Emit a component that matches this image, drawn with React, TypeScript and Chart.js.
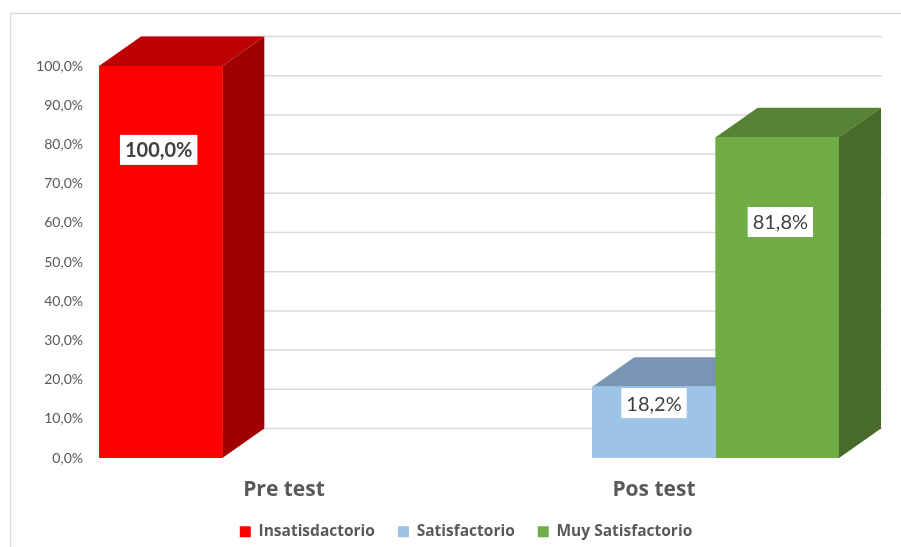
import { useEffect, useRef } from "react";
import { Chart, registerables } from "chart.js";

Chart.register(...registerables);

const categories = ["Pre test", "Pos test"];
const seriesNames = ["Insatisdactorio", "Satisfactorio", "Muy Satisfactorio"];
const insatisfactorio = [100, null];
const satisfactorio = [null, 18.2];
const muySatisfactorio = [null, 81.8];

const FONT = "Lato, 'Open Sans', sans-serif";
const WIDE = "'Open Sans', sans-serif";
const GREY = "#595959";
const DX = 42;
const DY = 29.5;
const faces = [
  { front: "#FF0000", top: "#BE0000", side: "#A00000" },
  { front: "#9DC3E6", top: "#7A95B4", side: "#6F8AA8" },
  { front: "#70AD47", top: "#578133", side: "#486B2A" },
];
// where each data label sits, in axis units (label centre), its shift from the bar centre, and weight
const labelAnchors = [
  { at: 78.6, dx: -2, bold: true },
  { at: 14, dx: 0, bold: false },
  { at: 60.2, dx: 3, bold: false },
];

const frame = {
  id: "frame",
  afterLayout(chart: any) {
    // the legend sits slightly left of the plot's centre in the reference
    chart.legend.left -= 3;
    chart.legend.right -= 3;
  },
  beforeDraw(chart: any) {
    const { ctx } = chart;
    ctx.save();
    ctx.strokeStyle = "#D9D9D9";
    ctx.lineWidth = 1.5;
    ctx.beginPath();
    ctx.moveTo(10.5, 547);
    ctx.lineTo(10.5, 13.5);
    ctx.lineTo(901, 13.5);
    ctx.stroke();
    ctx.restore();
  },
};

const depth = {
  id: "depth",
  beforeDatasetsDraw(chart: any) {
    const { ctx, scales } = chart;
    const y = scales.y;
    const x = scales.x;
    ctx.save();
    ctx.strokeStyle = "#D9D9D9";
    ctx.lineWidth = 1.5;
    y.ticks.forEach((t: any) => {
      const py = y.getPixelForValue(t.value) - DY;
      ctx.beginPath();
      ctx.moveTo(x.left + DX, py);
      ctx.lineTo(x.right + DX + 1, py);
      ctx.stroke();
    });
    chart.data.datasets.forEach((_: any, i: number) => {
      chart.getDatasetMeta(i).data.forEach((bar: any, j: number) => {
        if (chart.data.datasets[i].data[j] == null) return;
        const { x: cx, y: top, base, width } = bar.getProps(["x", "y", "base", "width"], true);
        const l = cx - width / 2;
        const r = cx + width / 2;
        ctx.fillStyle = faces[i].top;
        ctx.beginPath();
        ctx.moveTo(l, top);
        ctx.lineTo(l + DX, top - DY);
        ctx.lineTo(r + DX, top - DY);
        ctx.lineTo(r, top);
        ctx.closePath();
        ctx.fill();
        ctx.fillStyle = faces[i].side;
        ctx.beginPath();
        ctx.moveTo(r, top);
        ctx.lineTo(r + DX, top - DY);
        ctx.lineTo(r + DX, base - DY);
        ctx.lineTo(r, base);
        ctx.closePath();
        ctx.fill();
      });
    });
    ctx.restore();
  },
};

const valueLabels = {
  id: "valueLabels",
  afterDatasetsDraw(chart: any) {
    const { ctx, scales } = chart;
    ctx.save();
    ctx.textAlign = "center";
    ctx.textBaseline = "middle";
    chart.data.datasets.forEach((ds: any, i: number) => {
      chart.getDatasetMeta(i).data.forEach((bar: any, j: number) => {
        const v = ds.data[j];
        if (v == null) return;
        const a = labelAnchors[i];
        const text = v.toFixed(1).replace(".", ",") + "%";
        const py = scales.y.getPixelForValue(a.at);
        const cx = bar.getProps(["x"], true).x + a.dx;
        ctx.font = `${a.bold ? "bold " : ""}20px ${FONT}`;
        const w = ctx.measureText(text).width + 10;
        ctx.fillStyle = "#FFFFFF";
        ctx.fillRect(cx - w / 2, py - 15, w, 30);
        ctx.fillStyle = "#404040";
        ctx.fillText(text, cx, py + 1);
      });
    });
    ctx.restore();
  },
};

export default function App() {
  const ref = useRef<HTMLCanvasElement>(null);
  useEffect(() => {
    const chart = new Chart(ref.current!, {
      type: "bar",
      data: {
        labels: categories,
        datasets: [insatisfactorio, satisfactorio, muySatisfactorio].map((d, i) => ({
          label: seriesNames[i],
          data: d,
          backgroundColor: faces[i].front,
          categoryPercentage: 1,
          barPercentage: 1,
        })),
      },
      options: {
        responsive: false,
        animation: false,
        layout: { padding: { left: 0, right: 62, top: 66, bottom: 0 } },
        scales: {
          x: {
            grid: { display: false, drawTicks: false },
            border: { display: false },
            afterFit: (s: any) => { s.height = 43; },
            ticks: {
              padding: 19,
              color: GREY,
              font: { family: WIDE, size: 21, weight: "bold" },
            },
          },
          y: {
            min: 0,
            max: 100,
            grid: { display: false, drawTicks: false },
            border: { display: false },
            afterFit: (s: any) => { s.width = 99; },
            ticks: {
              stepSize: 10,
              padding: 16,
              color: GREY,
              font: { family: FONT, size: 14 },
              callback: (v: any) => Number(v).toFixed(1).replace(".", ",") + "%",
            },
          },
        },
        plugins: {
          tooltip: { enabled: false },
          legend: {
            position: "bottom",
            fullSize: false,
            maxHeight: 46,
            labels: {
              boxWidth: 11,
              boxHeight: 11,
              padding: 23,
              color: GREY,
              font: { family: WIDE, size: 15.5, weight: "bold" },
            },
          },
        },
      },
      plugins: [frame, depth, valueLabels],
    } as any);
    return () => chart.destroy();
  }, []);
  return (
    <canvas
      ref={ref}
      width={901}
      height={547}
      style={{ position: "absolute", left: 0, top: 0, display: "block" }}
    />
  );
}
